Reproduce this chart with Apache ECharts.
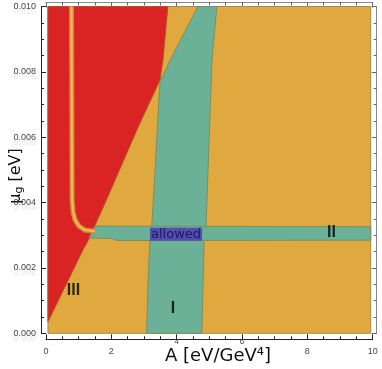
<!DOCTYPE html>
<html>
<head>
<meta charset="utf-8">
<script src="https://cdn.jsdelivr.net/npm/echarts@6/dist/echarts.min.js"></script>
<style>
  html, body { margin: 0; padding: 0; background: #fff; }
  #chart { width: 382px; height: 369px; }
</style>
</head>
<body>
<div id="chart"></div>
<script>
// region outlines as [A, mu_g] pairs
const plotBox = [[0.06, 0], [9.94, 0], [9.94, 0.01], [0.06, 0.01]];
const regionIII = [
  [0.06, 0.01], [3.73, 0.01], [3.58, 0.00836], [3.49, 0.00775], [2.82, 0.00631],
  [1.81, 0.00399], [1.50, 0.00331], [1.35, 0.00295],
  [1.13, 0.00255], [0.06, 0.00035]
];
const regionI = [
  [3.08, 0], [3.12, 0.00148], [3.18, 0.00285], [3.24, 0.00331], [3.34, 0.005],
  [3.46, 0.00723], [3.49, 0.00769], [3.80, 0.00836], [4.65, 0.01], [5.23, 0.01],
  [5.08, 0.00836], [4.96, 0.005], [4.90, 0.00328], [4.84, 0.00286], [4.77, 0]
];
const regionII = [
  [1.50, 0.00328], [9.94, 0.00326], [9.94, 0.00285], [2.17, 0.00284],
  [2.02, 0.0029], [1.32, 0.00292]
];
const edgeCurve = [
  [0.78, 0.01], [0.80, 0.00408], [0.83, 0.00371], [0.89, 0.00347],
  [1.01, 0.00328], [1.19, 0.00316], [1.50, 0.00312]
];
const labelNames = ['III', 'I', 'II', 'allowed'];
const labelA = [0.84, 3.89, 8.74, 3.98];
const labelMu = [0.0013, 0.00075, 0.00307, 0.00303];

const myChart = echarts.init(document.getElementById('chart'));

function polygonSeries(points, fill, stroke) {
  return {
    type: 'custom',
    silent: true,
    data: [[0, 0]],
    renderItem: function (params, api) {
      return {
        type: 'polygon',
        shape: { points: points.map(function (p) { return api.coord(p); }) },
        style: { fill: fill, stroke: stroke, lineWidth: 1 }
      };
    }
  };
}

function curveSeries(points, color, width) {
  return {
    type: 'custom',
    silent: true,
    data: [[0, 0]],
    renderItem: function (params, api) {
      return {
        type: 'polyline',
        shape: { points: points.map(function (p) { return api.coord(p); }) },
        style: { stroke: color, lineWidth: width, fill: null }
      };
    }
  };
}

const tickFont = { fontSize: 9, color: '#444', fontFamily: 'Liberation Sans' };

myChart.setOption({
  backgroundColor: '#fff',
  animation: false,
  grid: { left: 46, top: 6.5, width: 326.7, height: 326.8 },
  xAxis: [
    {
      type: 'value', min: 0, max: 10, interval: 2, position: 'bottom', offset: 6,
      axisLine: { show: true, onZero: false, lineStyle: { color: '#222' } },
      axisTick: { show: true, inside: true, length: 5, lineStyle: { color: '#222' } },
      minorTick: { show: true, splitNumber: 4, length: 3, lineStyle: { color: '#222' } },
      splitLine: { show: false },
      axisLabel: Object.assign({ margin: 8, formatter: function (v) {
        return (v === 4 || v === 6) ? '' : String(v);
      } }, tickFont)
    },
    {
      // the 4 and 6 labels sit higher, squeezed under the axis title
      type: 'value', min: 0, max: 10, interval: 2, position: 'bottom', offset: 6,
      axisLine: { show: false }, axisTick: { show: false }, splitLine: { show: false },
      axisLabel: { margin: -2, fontSize: 8, color: '#444', fontFamily: 'Liberation Sans',
        formatter: function (v) { return (v === 4 || v === 6) ? String(v) : ''; } }
    },
    {
      type: 'value', min: 0, max: 10, interval: 2, position: 'top', offset: 4,
      axisLine: { show: true, onZero: false, lineStyle: { color: '#888' } },
      axisTick: { show: true, inside: true, length: 5, lineStyle: { color: '#666' } },
      minorTick: { show: true, splitNumber: 4, length: 3, lineStyle: { color: '#666' } },
      splitLine: { show: false },
      axisLabel: { show: false }
    }
  ],
  yAxis: [
    {
      type: 'value', min: 0, max: 0.01, interval: 0.002, position: 'left', offset: 5,
      axisLine: { show: true, onZero: false, lineStyle: { color: '#222' } },
      axisTick: { show: true, inside: true, length: 5, lineStyle: { color: '#222' } },
      minorTick: { show: true, splitNumber: 4, length: 3, lineStyle: { color: '#222' } },
      splitLine: { show: false },
      axisLabel: Object.assign({ margin: 5, formatter: function (v) { return v.toFixed(3); },
        textShadowColor: 'rgba(0,0,0,0.12)', textShadowOffsetY: 5, textShadowBlur: 1 }, tickFont)
    },
    {
      type: 'value', min: 0, max: 0.01, interval: 0.002, position: 'right', offset: 4,
      axisLine: { show: true, onZero: false, lineStyle: { color: '#888' } },
      axisTick: { show: true, inside: true, length: 5, lineStyle: { color: '#666' } },
      minorTick: { show: true, splitNumber: 4, length: 3, lineStyle: { color: '#666' } },
      splitLine: { show: false },
      axisLabel: { show: false }
    }
  ],
  graphic: [
    {
      type: 'text', x: 218, y: 356,
      style: { text: 'A [eV/GeV⁴]', fontSize: 18, fontFamily: 'DejaVu Sans', fill: '#111',
        align: 'center', verticalAlign: 'middle' }
    },
    {
      type: 'text', x: 16, y: 176, rotation: Math.PI / 2,
      style: {
        text: '{a|μ}{s|g}{a| [eV]}', align: 'center', verticalAlign: 'middle',
        rich: {
          a: { fontSize: 16, fontFamily: 'DejaVu Sans', fill: '#111' },
          s: { fontSize: 11, fontFamily: 'DejaVu Sans', fill: '#111', verticalAlign: 'bottom', padding: [6, 0, 0, 0] }
        }
      }
    }
  ],
  series: [
    polygonSeries(plotBox, '#dfa93f', '#a88a4a'),
    polygonSeries(regionIII, '#da2424', '#b0542c'),
    polygonSeries(regionI, '#6ab198', '#7d8f5c'),
    polygonSeries(regionII, '#6ab198', '#7d8f5c'),
    curveSeries(edgeCurve, '#d4893a', 5),
    curveSeries(edgeCurve, '#eebc58', 2),
    {
      type: 'scatter',
      symbolSize: 0,
      silent: true,
      data: labelNames.map(function (n, i) { return { value: [labelA[i], labelMu[i]], name: n }; }),
      label: {
        show: true, position: 'inside', formatter: '{b}',
        fontSize: 16, fontWeight: 'bold', fontFamily: 'Liberation Sans', color: '#000'
      },
      labelLayout: { hideOverlap: false }
    }
  ]
});

// the "allowed" tag carries its own blue box
const opt = myChart.getOption();
opt.series[6].data[3].label = {
  fontSize: 13, fontWeight: 'normal', fontFamily: 'DejaVu Sans', color: '#150a4a',
  backgroundColor: '#4a36b8', padding: [0, 1, 0, 1]
};
myChart.setOption({ series: opt.series });
</script>
</body>
</html>
